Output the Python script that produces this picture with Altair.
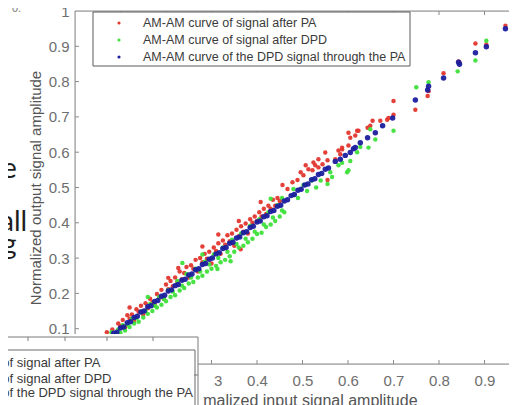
import altair as alt
import pandas as pd

# ---------------- data ----------------
red_x = [0.045, 0.055, 0.062, 0.07, 0.075, 0.082, 0.088, 0.095, 0.10, 0.105, 0.11, 0.115, 0.12, 0.125, 0.13,
         0.135, 0.14, 0.145, 0.15, 0.155, 0.16, 0.165, 0.17, 0.175, 0.18, 0.185, 0.19, 0.195, 0.20, 0.205,
         0.21, 0.215, 0.22, 0.225, 0.23, 0.235, 0.24, 0.245, 0.25, 0.255, 0.26, 0.265, 0.27, 0.275, 0.28,
         0.285, 0.29, 0.295, 0.30, 0.305, 0.31, 0.315, 0.32, 0.325, 0.33, 0.335, 0.34, 0.345, 0.35, 0.355,
         0.36, 0.365, 0.37, 0.375, 0.38, 0.385, 0.39, 0.395, 0.40, 0.405, 0.41, 0.415, 0.42, 0.425, 0.43,
         0.435, 0.44, 0.445, 0.45,
         0.408, 0.28, 0.315, 0.227, 0.205, 0.364, 0.12, 0.36,
         0.456, 0.467, 0.478, 0.489, 0.496, 0.502, 0.507, 0.513, 0.522, 0.524, 0.528, 0.535, 0.535, 0.544,
         0.55, 0.555, 0.555, 0.572, 0.579, 0.583, 0.587, 0.587, 0.601, 0.601, 0.605, 0.616, 0.62, 0.623,
         0.643, 0.649, 0.654, 0.671, 0.686, 0.689, 0.70, 0.70,
         0.748, 0.775, 0.777, 0.81, 0.845, 0.843, 0.88, 0.904, 0.946, 0.968]
red_y = [0.05, 0.068, 0.06, 0.09, 0.078, 0.098, 0.085, 0.115, 0.108, 0.125, 0.104, 0.138, 0.128, 0.14, 0.122,
         0.155, 0.148, 0.165, 0.14, 0.172, 0.158, 0.185, 0.175, 0.168, 0.198, 0.188, 0.21, 0.185, 0.225, 0.212,
         0.235, 0.22, 0.245, 0.232, 0.262, 0.24, 0.258, 0.275, 0.245, 0.28, 0.27, 0.295, 0.262, 0.30, 0.288,
         0.312, 0.298, 0.318, 0.285, 0.33, 0.32, 0.342, 0.312, 0.35, 0.338, 0.365, 0.348, 0.37, 0.335, 0.38,
         0.362, 0.39, 0.375, 0.398, 0.37, 0.41, 0.40, 0.418, 0.405, 0.43, 0.418, 0.44, 0.425, 0.448, 0.44,
         0.465, 0.448, 0.47, 0.462,
         0.459, 0.333, 0.367, 0.272, 0.244, 0.325, 0.16, 0.405,
         0.507, 0.496, 0.515, 0.521, 0.543, 0.535, 0.563, 0.552, 0.549, 0.571, 0.563, 0.557, 0.58, 0.566,
         0.599, 0.577, 0.521, 0.58, 0.605, 0.594, 0.608, 0.613, 0.619, 0.655, 0.641, 0.647, 0.661, 0.661,
         0.669, 0.675, 0.689, 0.689, 0.692, 0.697, 0.706, 0.745,
         0.72, 0.759, 0.773, 0.824, 0.854, 0.857, 0.908, 0.905, 0.958, 0.992]

green_x = [0.05, 0.055, 0.06, 0.065, 0.07, 0.075, 0.08, 0.085, 0.09, 0.095, 0.10, 0.105, 0.11, 0.115, 0.12,
           0.125, 0.13, 0.135, 0.14, 0.145, 0.15, 0.155, 0.16, 0.165, 0.17, 0.175, 0.18, 0.185, 0.19, 0.195,
           0.20, 0.205, 0.21, 0.215, 0.22, 0.225, 0.23, 0.235, 0.24, 0.245, 0.25, 0.255, 0.26, 0.265, 0.27,
           0.275, 0.28, 0.285, 0.29, 0.295, 0.30, 0.305, 0.31, 0.315, 0.32, 0.325, 0.33, 0.335, 0.34, 0.345,
           0.35, 0.355, 0.36, 0.365, 0.37, 0.375, 0.38, 0.385, 0.39, 0.395, 0.40, 0.405, 0.41, 0.415, 0.42,
           0.425, 0.43, 0.435, 0.44, 0.445, 0.45, 0.455, 0.46,
           0.313, 0.342, 0.236, 0.16, 0.28,
           0.43, 0.455, 0.48, 0.48, 0.49, 0.502, 0.51, 0.52, 0.53, 0.54, 0.555, 0.561, 0.565, 0.579, 0.587,
           0.598, 0.601, 0.605, 0.62, 0.627, 0.645, 0.649, 0.66, 0.70,
           0.75, 0.777, 0.841, 0.88, 0.904, 0.964]
green_y = [0.045, 0.06, 0.052, 0.072, 0.06, 0.07, 0.09, 0.072, 0.085, 0.098, 0.088, 0.11, 0.095, 0.112, 0.105,
           0.128, 0.115, 0.13, 0.12, 0.148, 0.132, 0.15, 0.142, 0.17, 0.15, 0.165, 0.16, 0.19, 0.168, 0.185,
           0.178, 0.21, 0.19, 0.205, 0.195, 0.235, 0.208, 0.222, 0.215, 0.255, 0.228, 0.245, 0.232, 0.27, 0.245,
           0.262, 0.25, 0.29, 0.262, 0.282, 0.27, 0.31, 0.278, 0.30, 0.288, 0.33, 0.295, 0.318, 0.305, 0.352,
           0.318, 0.34, 0.33, 0.37, 0.335, 0.355, 0.345, 0.392, 0.355, 0.375, 0.368, 0.41, 0.372, 0.395, 0.388,
           0.43, 0.395, 0.415, 0.405, 0.45, 0.418, 0.435, 0.43,
           0.269, 0.291, 0.286, 0.19, 0.31,
           0.468, 0.47, 0.496, 0.479, 0.47, 0.507, 0.49, 0.52, 0.50, 0.52, 0.51, 0.543, 0.53, 0.563, 0.57,
           0.543, 0.549, 0.575, 0.60, 0.615, 0.613, 0.665, 0.636, 0.661,
           0.784, 0.798, 0.829, 0.86, 0.916, 0.944]

blue_x = [0.04, 0.048, 0.055, 0.062, 0.07, 0.077, 0.085, 0.092, 0.10, 0.107, 0.115, 0.122, 0.13, 0.137, 0.145,
          0.152, 0.16, 0.167, 0.175, 0.182, 0.19, 0.197, 0.205, 0.212, 0.22, 0.227, 0.235, 0.242, 0.25, 0.257,
          0.265, 0.272, 0.28, 0.287, 0.295, 0.302, 0.31, 0.317, 0.325, 0.332, 0.34, 0.347, 0.355, 0.362, 0.37,
          0.377, 0.385, 0.392, 0.40, 0.407, 0.415, 0.422, 0.43, 0.437, 0.445, 0.452, 0.46, 0.467, 0.475, 0.482,
          0.49, 0.497, 0.505, 0.512, 0.52, 0.527, 0.535, 0.542, 0.55, 0.557,
          0.572, 0.583, 0.594, 0.605, 0.612, 0.616, 0.627, 0.643, 0.66, 0.676, 0.698,
          0.748, 0.775, 0.777, 0.81, 0.845, 0.843, 0.88, 0.904, 0.946, 0.964]
blue_y = [0.042, 0.045, 0.057, 0.06, 0.072, 0.075, 0.087, 0.09, 0.102, 0.105, 0.117, 0.12, 0.132, 0.135, 0.147,
          0.15, 0.162, 0.165, 0.177, 0.18, 0.192, 0.195, 0.207, 0.21, 0.222, 0.225, 0.237, 0.24, 0.252, 0.255,
          0.267, 0.27, 0.282, 0.285, 0.297, 0.30, 0.312, 0.315, 0.327, 0.33, 0.342, 0.345, 0.357, 0.36, 0.372,
          0.375, 0.387, 0.39, 0.402, 0.405, 0.417, 0.42, 0.432, 0.435, 0.447, 0.45, 0.462, 0.465, 0.477, 0.48,
          0.492, 0.495, 0.507, 0.51, 0.522, 0.525, 0.537, 0.54, 0.552, 0.555,
          0.574, 0.58, 0.591, 0.599, 0.61, 0.613, 0.627, 0.641, 0.655, 0.675, 0.697,
          0.748, 0.776, 0.787, 0.81, 0.849, 0.855, 0.882, 0.899, 0.95, 0.966]

series_names = ["AM-AM curve of signal after PA",
                "AM-AM curve of signal after DPD",
                "AM-AM curve of the DPD signal through the PA"]
series_colors = ["#e2362e", "#3fe03b", "#1b1f9e"]

# labels hidden under the overlapping figure (0, 0.1, 0.2 on x; 0 on y) are left out
x_tick_values = [0.3, 0.4, 0.5, 0.6, 0.7, 0.8, 0.9]
y_tick_values = [0.1, 0.2, 0.3, 0.4, 0.5, 0.6, 0.7, 0.8, 0.9, 1]
inner_ticks = [0.1, 0.2, 0.3, 0.4, 0.5, 0.6, 0.7, 0.8, 0.9]

# stray fragments of the surrounding page
side_words = ["e", "all", "g"]

# the picture is cropped on the right: the visible part of the x axis ends near 0.954
X_MAX = 0.9538
W, H = 434, 353
FONT = "Liberation Sans"
OX, OY = 75, 11  # plot origin in page pixels

xs = alt.Scale(domain=[0, X_MAX], nice=False, zero=False)
ys = alt.Scale(domain=[0, 1], nice=False, zero=False)

x_axis = alt.Axis(values=x_tick_values, format="~g", ticks=False, domain=False, grid=False,
                  labelFont=FONT, labelFontSize=15, labelColor="#6e6e6e", labelPadding=9,
                  titleFont=FONT, titleFontSize=16, titleColor="#555555", titleFontWeight="normal",
                  titleX=222, titleY=28)
y_axis = alt.Axis(values=y_tick_values, format="~g", ticks=False, domain=False, grid=False,
                  labelFont=FONT, labelFontSize=15, labelColor="#6e6e6e", labelPadding=6,
                  titleFont=FONT, titleFontSize=15, titleColor="#555555", titleFontWeight="normal",
                  titleX=-32)
X_TITLE = "Normalized input signal amplitude"
Y_TITLE = "Normalized output signal amplitude"


def xenc(field):
    return alt.X(f"{field}:Q", scale=xs, axis=x_axis, title=X_TITLE)


def yenc(field):
    return alt.Y(f"{field}:Q", scale=ys, axis=y_axis, title=Y_TITLE)


def pts(xv, yv, color, size):
    df = pd.DataFrame({"x": xv, "y": yv})
    return alt.Chart(df).mark_circle(size=size, opacity=0.95, color=color, clip=True).encode(
        x=xenc("x"), y=yenc("y"))


layers = [pts(red_x, red_y, series_colors[0], 20),
          pts(green_x, green_y, series_colors[1], 20),
          pts(blue_x, blue_y, series_colors[2], 30)]

frame_c = "#8c8c8c"
tick_df = pd.DataFrame({"t": inner_ticks})
layers.append(alt.Chart(tick_df).mark_rule(color=frame_c).encode(
    x=xenc("t"), y=alt.value(H), y2=alt.value(H - 4)))
layers.append(alt.Chart(tick_df).mark_rule(color=frame_c).encode(
    x=xenc("t"), y=alt.value(0), y2=alt.value(4)))
layers.append(alt.Chart(tick_df).mark_rule(color=frame_c).encode(
    y=yenc("t"), x=alt.value(0), x2=alt.value(4)))

one = pd.DataFrame({"a": [0]})


def rect(x1, x2, y1, y2, **kw):
    return alt.Chart(one).mark_rect(**kw).encode(
        x=alt.value(x1 - OX), x2=alt.value(x2 - OX), y=alt.value(y1 - OY), y2=alt.value(y2 - OY))


def hline(x1, x2, y, color):
    return alt.Chart(one).mark_rule(color=color).encode(
        x=alt.value(x1 - OX), x2=alt.value(x2 - OX), y=alt.value(y - OY))


def vline(x, y1, y2, color):
    return alt.Chart(one).mark_rule(color=color).encode(
        x=alt.value(x - OX), y=alt.value(y1 - OY), y2=alt.value(y2 - OY))


def label(txt, x, y, size, color, font=FONT, baseline="middle"):
    return alt.Chart(pd.DataFrame({"w": [txt]})).mark_text(
        align="left", baseline=baseline, font=font, fontSize=size, color=color).encode(
        x=alt.value(x - OX), y=alt.value(y - OY), text="w:N")


def dot(x, y, color):
    return alt.Chart(one).mark_circle(size=10, opacity=1, color=color).encode(
        x=alt.value(x - OX), y=alt.value(y - OY))


# axes box (top, left, bottom; the right side is cropped off)
layers.append(hline(OX, OX + W + 10, OY, frame_c))
layers.append(hline(OX, OX + W + 10, OY + H, frame_c))
layers.append(vline(OX, OY, OY + H, frame_c))

# ---------------- main legend ----------------
layers.append(rect(93, 410, 12, 66, fill="white", stroke="#5a5a5a", strokeWidth=1))
for name, col, py in zip(series_names, series_colors, [23, 40, 57]):
    layers.append(dot(119, py, col))
    layers.append(label(name, 143, py, 12.5, "#3a3a3a"))

# ---------------- overlapping fragment of a second figure (bottom-left) ----------------
ov_c = "#7a7a7a"
layers.append(rect(-10, 198, 334, 430, fill="white"))
layers.append(rect(198, 213, 366, 391, fill="white"))
layers.append(rect(198, 203, 391, 430, fill="white"))
layers.append(hline(-10, 198, 337, ov_c))
layers.append(vline(198, 337, 430, ov_c))
for tx in [28, 65, 107, 153]:
    layers.append(vline(tx, 337, 341, ov_c))
layers.append(hline(194, 198, 375, ov_c))
layers.append(hline(-10, 195, 350, "#6a6a6a"))
layers.append(vline(195, 350, 430, "#6a6a6a"))
for name, py in zip(series_names, [363, 379, 393]):
    layers.append(label(name, -80, py, 13, "#3a3a3a"))

# ---------------- stray page text ----------------
for w, px, py in zip(side_words, [2, 0, 2], [178, 231, 254]):
    layers.append(label(w, px, py, 28, "#1e1e1e", font="Lato", baseline="alphabetic"))
layers.append(label("0.", 12, 12, 11, "#777777", baseline="alphabetic"))

chart = alt.layer(*layers).properties(
    width=W, height=H,
    autosize=alt.AutoSizeParams(type="none"),
    padding={"left": 67, "top": 3, "right": 0, "bottom": 48},
).configure_view(
    strokeWidth=0
).configure(background="white")

chart.save("out.html", embed_options={"renderer": "svg", "actions": False})
